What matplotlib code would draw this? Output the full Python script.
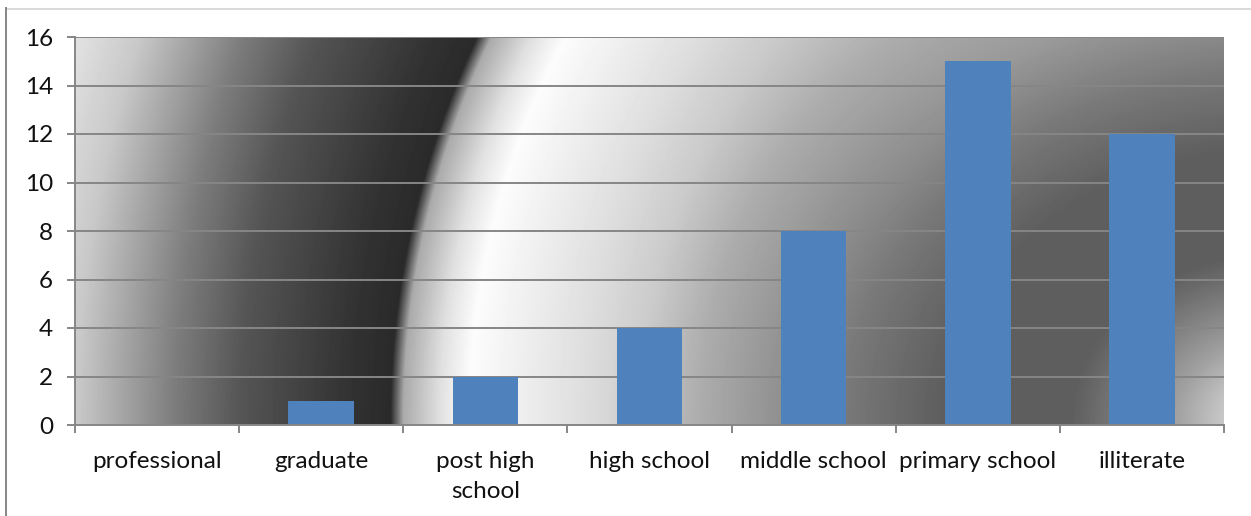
import numpy as np
import matplotlib
matplotlib.use('Agg')
import matplotlib.pyplot as plt
from matplotlib.lines import Line2D

categories = ['professional', 'graduate', 'post high\nschool', 'high school',
              'middle school', 'primary school', 'illiterate']
values = [0, 1, 2, 4, 8, 15, 12]
y_ticks = [0, 2, 4, 6, 8, 10, 12, 14, 16]

# ring shading of the plot area: distance from the focus -> grey level
ring_radius = [0, 57, 106, 150, 185, 210, 340, 434, 581, 641, 700, 812, 841, 878, 885, 891, 931, 1041, 1108, 1204, 1262, 1300]
ring_grey = [215, 200, 160, 130, 108, 94, 94, 120, 172, 203, 222, 252, 225, 170, 100, 42, 50, 85, 125, 200, 225, 228]

W, H = 1251, 516
LEFT, RIGHT, TOP, BOTTOM = 75, 1224, 37, 425
GREY = '#868686'
BAR = '#4F81BD'

plt.rcParams['font.family'] = ['Lato', 'DejaVu Sans']


def ring_background():
    """Grey path gradient around a focus beyond the lower right corner."""
    px, py = np.meshgrid(np.arange(LEFT, RIGHT), np.arange(TOP, BOTTOM))
    dx = px - 1281.0
    dy = py - 420.0
    r = np.hypot(dx, dy)
    # the inner rings are squeezed vertically
    k = np.interp(r, [450, 650], [1.25, 1.0])
    r = np.hypot(dx, k * dy)
    return np.interp(r, ring_radius, ring_grey)


fig = plt.figure(figsize=(W / 100, H / 100), dpi=100, facecolor='white')
ax = fig.add_axes([LEFT / W, 1 - BOTTOM / H, (RIGHT - LEFT) / W, (BOTTOM - TOP) / H])

x = np.arange(len(categories))
ax.imshow(ring_background(), cmap='gray', vmin=0, vmax=255, aspect='auto',
          extent=(-0.5, 6.5, 0, 16), origin='upper', zorder=0, interpolation='bilinear')

ax.yaxis.grid(True, color=GREY, linewidth=1.4, zorder=1)
ax.set_axisbelow(True)
ax.bar(x, values, width=0.4, color=BAR, zorder=2)

ax.set_xlim(-0.5, 6.5)
ax.set_ylim(0, 16)
ax.set_yticks(y_ticks)
ax.set_xticks(np.arange(-0.5, 7, 1))
ax.set_xticklabels([])
ax.set_xticks(x, minor=True)
ax.set_xticklabels(categories, minor=True, fontsize=17.5, color='#111111', linespacing=1.52, va='top')

ax.tick_params(axis='x', which='major', length=5.8, width=1.4, color=GREY)
ax.tick_params(axis='x', which='minor', length=0, pad=18.5)
ax.tick_params(axis='y', length=5.8, width=1.4, color=GREY, labelsize=17.5, labelcolor='#111111', pad=10)

for side in ['top', 'right']:
    ax.spines[side].set_visible(False)
for side in ['left', 'bottom']:
    ax.spines[side].set_color(GREY)
    ax.spines[side].set_linewidth(1.4)

# outer chart frame, only the top and left edges show
fig.add_artist(Line2D([5.5 / W, 1], [1 - 8.5 / H, 1 - 8.5 / H], color='#D0D0D0', linewidth=1.1))
fig.add_artist(Line2D([6 / W, 6 / W], [0, 1 - 8 / H], color=GREY, linewidth=1.4))

fig.savefig('out.png', dpi=100, facecolor='white')
